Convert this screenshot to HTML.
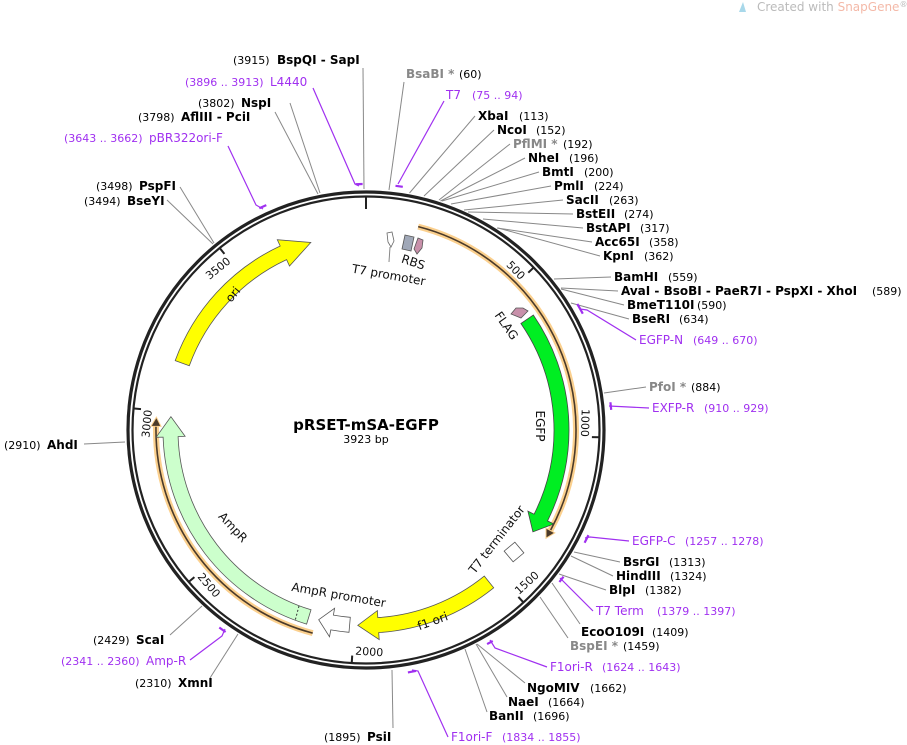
<!DOCTYPE html>
<html><head><meta charset="utf-8"><style>
html,body{margin:0;padding:0;background:#fff;width:907px;height:745px;overflow:hidden}
svg{display:block;font-family:"DejaVu Sans","Liberation Sans",sans-serif}
.n{font-weight:bold;font-size:12px;fill:#000}
.g{font-weight:bold;font-size:12px;fill:#888}
.c{font-size:11px;fill:#000}
.p{font-size:12px;fill:#a030f0}
.pc{font-size:11px;fill:#a030f0}
.l{stroke:#888;stroke-width:1;fill:none}
.pl{stroke:#a030f0;stroke-width:1.2;fill:none}
.br{stroke:#a030f0;stroke-width:2.2;fill:none}
.f{font-size:12px;fill:#111}
.t{font-size:11px;fill:#111}
</style></head><body>
<svg width="907" height="745" viewBox="0 0 907 745">
<!-- watermark -->
<path d="M739 12 L743 2 L746 12 Z" fill="#a8d8ea"/>
<text x="757" y="11" font-size="12" fill="#bbb">Created with <tspan fill="#f4b9a8">SnapGene</tspan><tspan font-size="8" dy="-4">®</tspan></text>

<!-- leader lines -->
<g class="l">
<line x1="389" y1="190" x2="404" y2="82"/>
<line x1="409.5" y1="193" x2="475" y2="116"/>
<line x1="424" y1="196" x2="494" y2="130"/>
<line x1="439" y1="200" x2="510" y2="144"/>
<line x1="440.5" y1="201" x2="525" y2="158"/>
<line x1="442" y1="201" x2="539" y2="172"/>
<line x1="451" y1="204" x2="551" y2="186"/>
<line x1="464" y1="210" x2="563" y2="200"/>
<line x1="468" y1="212" x2="573" y2="214"/>
<line x1="483" y1="219" x2="583" y2="228"/>
<line x1="497" y1="228" x2="592" y2="242"/>
<line x1="498" y1="228" x2="600" y2="256"/>
<line x1="554" y1="279" x2="611" y2="277"/>
<line x1="561" y1="288" x2="618" y2="291"/>
<line x1="561" y1="289" x2="624" y2="305"/>
<line x1="571" y1="303" x2="629" y2="319"/>
<line x1="604" y1="393" x2="646" y2="387"/>
<line x1="574" y1="552" x2="620" y2="562"/>
<line x1="571" y1="556" x2="613" y2="576"/>
<line x1="559" y1="574" x2="606" y2="590"/>
<line x1="552" y1="583" x2="580" y2="624"/>
<line x1="540" y1="597" x2="568" y2="638"/>
<line x1="477" y1="644" x2="525" y2="683"/>
<line x1="476" y1="644" x2="507" y2="697"/>
<line x1="465" y1="649" x2="487" y2="712"/>
<line x1="392" y1="670" x2="393" y2="728"/>
<line x1="238" y1="634" x2="210" y2="678"/>
<line x1="202" y1="606" x2="170" y2="635"/>
<line x1="125" y1="442" x2="84" y2="444"/>
<line x1="213" y1="244" x2="167" y2="200"/>
<line x1="214" y1="243" x2="180" y2="187"/>
<line x1="318" y1="194" x2="275" y2="112"/>
<line x1="320" y1="193" x2="290" y2="103"/>
<line x1="364" y1="189" x2="363" y2="68"/>
</g>
<g class="pl">
<polyline points="398,184 444,101"/>
<polyline points="580,309 587,310 636,340"/>
<polyline points="609,406 649,408"/>
<polyline points="585,538 590,537 629,541"/>
<polyline points="560,578 593,611"/>
<polyline points="490,640 495,648 547,667"/>
<polyline points="412,670 418,671 448,737"/>
<polyline points="225,629 222,636 190,660"/>
<polyline points="263,209 256,205 228,146"/>
<polyline points="359,186 355,184 313,88"/>
</g>
<g class="br">
<path d="M395.5 185.8 A246 246 0 0 1 402.8 186.8"/>
<path d="M577.3 304 A246 246 0 0 1 582.8 313.7"/>
<path d="M610.4 402.2 A246 246 0 0 1 611.2 409.9"/>
<path d="M588.4 535.1 A246 246 0 0 1 584.6 542.8"/>
<path d="M563.5 576.7 A246 246 0 0 1 559.4 582"/>
<path d="M492.7 640.9 A246 246 0 0 1 487.1 644.1"/>
<path d="M415.9 670.9 A246 246 0 0 1 407.9 672.4"/>
<path d="M225.6 632 A246 246 0 0 1 219.3 627.5"/>
<path d="M259.3 208.3 A246 246 0 0 1 266.3 205.1"/>
<path d="M355.7 184.2 A246 246 0 0 1 362.6 184"/>
</g>

<!-- backbone -->
<circle cx="366" cy="430" r="238" fill="none" stroke="#222" stroke-width="3.2"/>
<circle cx="366" cy="430" r="233.5" fill="none" stroke="#222" stroke-width="2.2"/>

<!-- ticks -->
<g stroke="#222" stroke-width="2">
<line x1="366" y1="196" x2="366" y2="209"/>
<line x1="534" y1="267.2" x2="528.3" y2="272.7"/>
<line x1="599.9" y1="437.3" x2="591.9" y2="437.1"/>
<line x1="523.8" y1="602.8" x2="518.4" y2="596.9"/>
<line x1="351.7" y1="663.6" x2="352.2" y2="655.6"/>
<line x1="188.3" y1="582.3" x2="194.4" y2="577.1"/>
<line x1="133" y1="408.4" x2="141" y2="409.1"/>
<line x1="219.4" y1="247.6" x2="224.4" y2="253.9"/>
</g>
<g class="t">
<text transform="translate(520.4,280.4) rotate(45.9)" text-anchor="end">500</text>
<text transform="translate(580.9,436.8) rotate(91.8)" text-anchor="end">1000</text>
<text transform="translate(151.9,410.1) rotate(-84.7)" text-anchor="end">3000</text>
<text transform="translate(231.3,262.5) rotate(-38.8)" text-anchor="end">3500</text>
<text transform="translate(519,595) rotate(-42.4)">1500</text>
<text transform="translate(355,654.6) rotate(3.5)">2000</text>
<text transform="translate(197,577) rotate(49.4)">2500</text>
</g>

<!-- orange arcs -->
<g fill="none">
<path d="M418.2 226.6 A210 210 0 0 1 550.4 530.5" stroke="#fbd08e" stroke-width="6"/>
<path d="M418.2 226.6 A210 210 0 0 1 550.4 530.5" stroke="#4a3a2a" stroke-width="1.6"/>
<path d="M312.7 633.1 A210 210 0 0 1 156 426.3" stroke="#fbd08e" stroke-width="6"/>
<path d="M312.7 633.1 A210 210 0 0 1 156 426.3" stroke="#4a3a2a" stroke-width="1.6"/>
</g>
<polygon points="546,528.1 554.8,532.9 546,538.2" fill="#4a3a2a" stroke="#fbd08e" stroke-width="1"/>
<polygon points="161,426.4 151,426.2 156.4,417.2" fill="#4a3a2a" stroke="#fbd08e" stroke-width="1"/>

<!-- features -->
<path d="M533.3 315 A203 203 0 0 1 547.5 520.9 L553.8 524 L532.9 531.9 L527.9 511.1 L534.1 514.2 A188 188 0 0 0 520.9 323.5 Z" fill="#00ee22" stroke="#444" stroke-width="0.8"/>
<path d="M175.2 360.6 A203 203 0 0 1 280.2 246 L277.3 239.7 L310.8 242.5 L289.5 266 L286.6 259.6 A188 188 0 0 0 189.3 365.7 Z" fill="#ffff00" stroke="#555" stroke-width="0.8"/>
<path d="M306.6 624.1 A203 203 0 0 1 163.1 437.1 L156.1 437.3 L170.9 416.7 L185.1 436.3 L178.1 436.6 A188 188 0 0 0 311 609.8 Z" fill="#ccffcc" stroke="#555" stroke-width="0.8"/>
<line x1="299" y1="606" x2="295" y2="621" stroke="#333" stroke-width="1" stroke-dasharray="2,2"/>
<path d="M493.7 587.8 A203 203 0 0 1 378.7 632.6 L379.2 639.6 L357.8 625.3 L377.4 610.6 L377.8 617.6 A188 188 0 0 0 484.3 576.1 Z" fill="#ffff00" stroke="#555" stroke-width="0.8"/>
<path d="M349 632.3 A203 203 0 0 1 330.8 629.9 L329.5 636.8 L318.7 619.7 L334.6 608.3 L333.4 615.1 A188 188 0 0 0 350.3 617.3 Z" fill="#fff" stroke="#555" stroke-width="0.8"/>

<polygon points="387,233 392,232 394,241 391,247 388,242" fill="#fff" stroke="#666" stroke-width="0.8"/>
<line x1="390" y1="247" x2="389" y2="262" stroke="#888"/>
<polygon points="405,235 414,237 411,251 402,249" fill="#a0a8b8" stroke="#555" stroke-width="0.8"/>
<polygon points="418,238 423,240 422,248 417,254 414,249" fill="#c890aa" stroke="#555" stroke-width="0.8"/>
<polygon points="511,314 516,308 523,308 528,311 521,318" fill="#c890aa" stroke="#555" stroke-width="0.8"/>
<rect x="-7" y="-7" width="14" height="14" transform="translate(514,552) rotate(-40)" fill="#fff" stroke="#555" stroke-width="0.8"/>

<!-- feature labels -->
<g class="f" text-anchor="middle">
<text transform="translate(388,279) rotate(10)">T7 promoter</text>
<text transform="translate(412,266) rotate(18)">RBS</text>
<text transform="translate(503,328) rotate(55)">FLAG</text>
<text transform="translate(536,426) rotate(90)">EGFP</text>
<text transform="translate(500,542) rotate(-52)">T7 terminator</text>
<text transform="translate(434,625) rotate(-20)">f1 ori</text>
<text transform="translate(338,599) rotate(10)">AmpR promoter</text>
<text transform="translate(230,530) rotate(47)">AmpR</text>
<text transform="translate(236,297) rotate(-50)">ori</text>
</g>
<text x="366" y="430" text-anchor="middle" font-weight="bold" font-size="15">pRSET-mSA-EGFP</text>
<text x="366" y="443" text-anchor="middle" font-size="11">3923 bp</text>

<!-- right labels -->
<text x="406" y="78" class="g">BsaBI *</text><text x="459" y="78" class="c">(60)</text>
<text x="446" y="99" class="p">T7</text><text x="472" y="99" class="pc">(75 .. 94)</text>
<text x="478" y="120" class="n">XbaI</text><text x="519" y="120" class="c">(113)</text>
<text x="497" y="134" class="n">NcoI</text><text x="536" y="134" class="c">(152)</text>
<text x="513" y="148" class="g">PflMI *</text><text x="563" y="148" class="c">(192)</text>
<text x="528" y="162" class="n">NheI</text><text x="569" y="162" class="c">(196)</text>
<text x="542" y="176" class="n">BmtI</text><text x="584" y="176" class="c">(200)</text>
<text x="554" y="190" class="n">PmlI</text><text x="594" y="190" class="c">(224)</text>
<text x="566" y="204" class="n">SacII</text><text x="609" y="204" class="c">(263)</text>
<text x="576" y="218" class="n">BstEII</text><text x="624" y="218" class="c">(274)</text>
<text x="586" y="232" class="n">BstAPI</text><text x="640" y="232" class="c">(317)</text>
<text x="595" y="246" class="n">Acc65I</text><text x="649" y="246" class="c">(358)</text>
<text x="603" y="260" class="n">KpnI</text><text x="644" y="260" class="c">(362)</text>
<text x="614" y="281" class="n">BamHI</text><text x="668" y="281" class="c">(559)</text>
<text x="621" y="295" class="n">AvaI  - BsoBI - PaeR7I - PspXI - XhoI</text><text x="872" y="295" class="c">(589)</text>
<text x="627" y="309" class="n">BmeT110I</text><text x="697" y="309" class="c">(590)</text>
<text x="632" y="323" class="n">BseRI</text><text x="679" y="323" class="c">(634)</text>
<text x="639" y="344" class="p">EGFP-N</text><text x="693" y="344" class="pc">(649 .. 670)</text>
<text x="649" y="391" class="g">PfoI *</text><text x="691" y="391" class="c">(884)</text>
<text x="652" y="412" class="p">EXFP-R</text><text x="704" y="412" class="pc">(910 .. 929)</text>
<text x="632" y="545" class="p">EGFP-C</text><text x="685" y="545" class="pc">(1257 .. 1278)</text>
<text x="623" y="566" class="n">BsrGI</text><text x="669" y="566" class="c">(1313)</text>
<text x="616" y="580" class="n">HindIII</text><text x="670" y="580" class="c">(1324)</text>
<text x="609" y="594" class="n">BlpI</text><text x="645" y="594" class="c">(1382)</text>
<text x="596" y="615" class="p">T7 Term</text><text x="657" y="615" class="pc">(1379 .. 1397)</text>
<text x="581" y="636" class="n">EcoO109I</text><text x="652" y="636" class="c">(1409)</text>
<text x="570" y="650" class="g">BspEI *</text><text x="623" y="650" class="c">(1459)</text>
<text x="550" y="671" class="p">F1ori-R</text><text x="602" y="671" class="pc">(1624 .. 1643)</text>
<text x="527" y="692" class="n">NgoMIV</text><text x="590" y="692" class="c">(1662)</text>
<text x="508" y="706" class="n">NaeI</text><text x="548" y="706" class="c">(1664)</text>
<text x="489" y="720" class="n">BanII</text><text x="533" y="720" class="c">(1696)</text>
<text x="451" y="741" class="p">F1ori-F</text><text x="502" y="741" class="pc">(1834 .. 1855)</text>
<text x="324" y="741" class="c">(1895)</text><text x="367" y="741" class="n">PsiI</text>

<!-- left labels -->
<text x="233" y="64" class="c">(3915)</text><text x="277" y="64" class="n">BspQI  - SapI</text>
<text x="185" y="86" class="pc">(3896 .. 3913)</text><text x="270" y="86" class="p">L4440</text>
<text x="198" y="107" class="c">(3802)</text><text x="241" y="107" class="n">NspI</text>
<text x="138" y="121" class="c">(3798)</text><text x="181" y="121" class="n">AflIII  - PciI</text>
<text x="64" y="142" class="pc">(3643 .. 3662)</text><text x="149" y="142" class="p">pBR322ori-F</text>
<text x="96" y="190" class="c">(3498)</text><text x="139" y="190" class="n">PspFI</text>
<text x="84" y="205" class="c">(3494)</text><text x="127" y="205" class="n">BseYI</text>
<text x="4" y="449" class="c">(2910)</text><text x="47" y="449" class="n">AhdI</text>
<text x="93" y="644" class="c">(2429)</text><text x="136" y="644" class="n">ScaI</text>
<text x="61" y="665" class="pc">(2341 .. 2360)</text><text x="146" y="665" class="p">Amp-R</text>
<text x="135" y="687" class="c">(2310)</text><text x="178" y="687" class="n">XmnI</text>
</svg>
</body></html>
